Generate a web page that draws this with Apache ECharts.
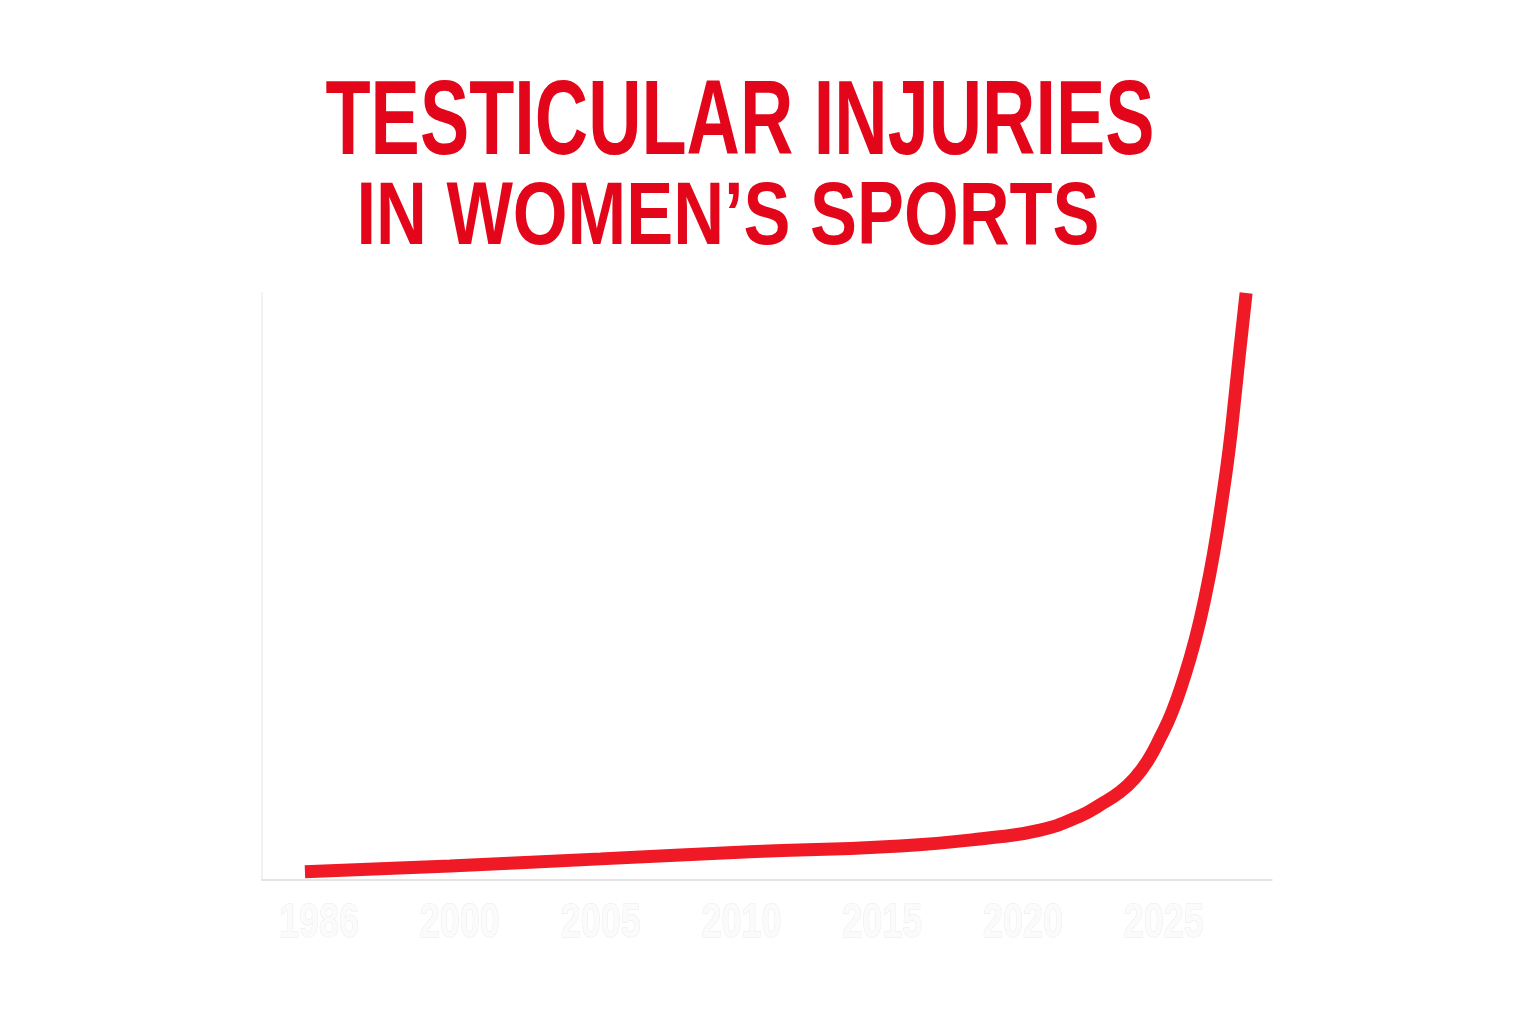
<!DOCTYPE html>
<html>
<head>
<meta charset="utf-8">
<title>Testicular injuries in women's sports</title>
<script src="https://cdn.jsdelivr.net/npm/echarts@6/dist/echarts.min.js"></script>
<style>
  html, body { margin: 0; padding: 0; background: #fff; }
  #main { width: 1536px; height: 1024px; }
</style>
</head>
<body>
<div id="main"></div>
<script>
// tick labels along the bottom, one per position 0..6
const yearLabels = ['1986', '2000', '2005', '2010', '2015', '2020', '2025'];
const labelPositions = [0, 1, 2, 3, 4, 5, 6];

// curve: x in label positions, y in % of the chart height
const curveX = [-0.10, 0.93, 2.00, 3.06, 4.126, 4.766, 5.121, 5.405, 5.547, 5.689, 5.795, 5.888,
    5.973, 6.058, 6.143, 6.222, 6.293, 6.357, 6.413, 6.463, 6.506, 6.541, 6.584];
const curveY = [1.4, 2.4, 3.6, 4.8, 5.8, 7.2, 8.5, 10.9, 12.8, 15.0, 17.4, 20.4,
    24.2, 28.6, 34.4, 40.9, 48.2, 56.2, 64.7, 73.3, 82.6, 90.6, 100];

const titleLines = ['TESTICULAR INJURIES', 'IN WOMEN\u2019S SPORTS'];

const RED_TITLE = '#e3061a';
const RED_LINE = '#ef1a26';
const TITLE_FONT = '"Liberation Sans Narrow", "Liberation Sans", Arial, sans-serif';

/*把文字压窄到参考图的宽度*/
function fitScale(text, font, target) {
    const ctx = document.createElement('canvas').getContext('2d');
    ctx.font = font;
    return target / ctx.measureText(text).width;
}

function titleText(id, text, size, cx, cy, width) {
    const font = `bold ${size}px ${TITLE_FONT}`;
    return {
        id: id,
        type: 'text',
        x: cx,
        y: cy,
        scaleX: fitScale(text, font, width),
        style: {
            text: text,
            fill: RED_TITLE,
            font: font,
            textAlign: 'center',
            textVerticalAlign: 'middle'
        }
    };
}

const chart = echarts.init(document.getElementById('main'), null, { renderer: 'canvas' });

chart.setOption({
    backgroundColor: '#ffffff',
    animation: false,
    grid: { left: 262, right: 264, top: 293, bottom: 144 },
    xAxis: {
        type: 'value',
        min: -0.405,
        max: 6.768,
        splitLine: { show: false },
        axisTick: { show: false },
        axisLabel: { show: false },
        axisLine: { show: true, lineStyle: { color: '#dcdcdc', width: 1.5 } }
    },
    yAxis: {
        type: 'value',
        min: 0,
        max: 100,
        splitLine: { show: false },
        axisTick: { show: false },
        axisLabel: { show: false },
        axisLine: { show: true, onZero: false, lineStyle: { color: '#f2f2f2', width: 2 } }
    },
    series: [{
        type: 'line',
        data: curveX.map((x, i) => [x, curveY[i]]),
        smooth: 0.5,
        showSymbol: false,
        clip: false,
        lineStyle: { color: RED_LINE, width: 13, cap: 'butt' }
    }],
    graphic: [
        titleText('title0', titleLines[0], 105, 740, 125, 829),
        titleText('title1', titleLines[1], 89, 728, 219, 743)
    ]
});

// 年份标签：位置取自x轴的比例尺，字体横向压窄
const labelFont = 'bold 48px "Liberation Sans", Arial, sans-serif';
const labelScale = fitScale('1986', labelFont, 80);
const axisY = chart.convertToPixel({ yAxisIndex: 0 }, 0);
chart.setOption({
    graphic: labelPositions.map((p, i) => ({
        id: 'year' + i,
        type: 'text',
        x: chart.convertToPixel({ xAxisIndex: 0 }, p),
        y: axisY + 44,
        scaleX: labelScale,
        style: {
            text: yearLabels[i],
            font: labelFont,
            fill: '#fbfbfb',
            stroke: '#e9e9e9',
            lineWidth: 1,
            textAlign: 'center',
            textVerticalAlign: 'middle'
        }
    }))
});
</script>
</body>
</html>
